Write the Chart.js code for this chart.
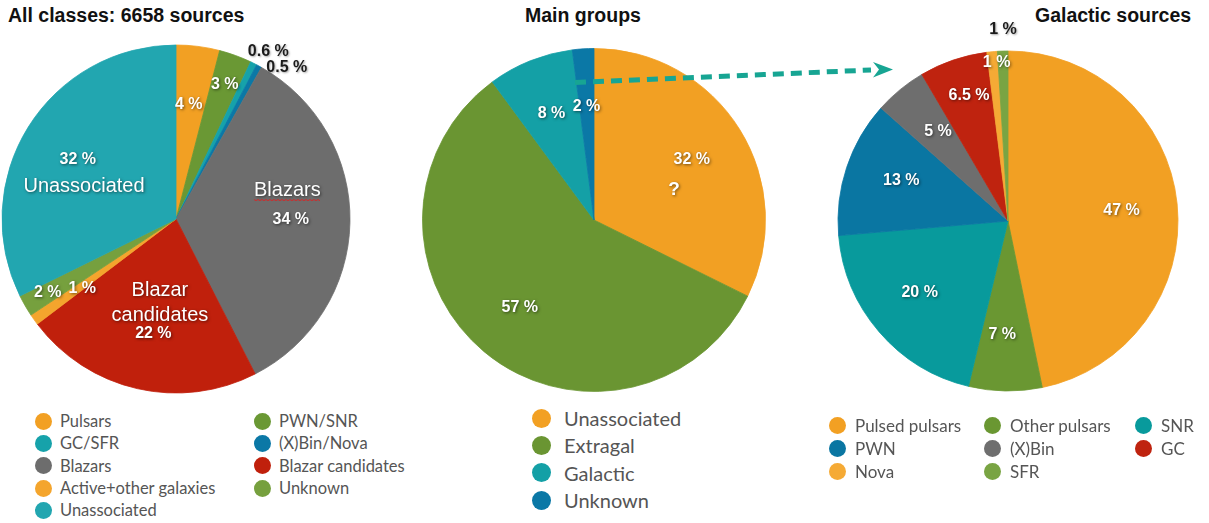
<!DOCTYPE html>
<html>
<head>
<meta charset="utf-8">
<script src="https://cdn.jsdelivr.net/npm/chart.js@4.4.1/dist/chart.umd.min.js"></script>
<style>
  html, body { margin: 0; padding: 0; background: #fff; }
  #page { position: relative; width: 1209px; height: 523px; overflow: hidden;
          font-family: 'Liberation Sans', Arial, Helvetica, sans-serif; }
  .title { position: absolute; font-weight: bold; font-size: 19.5px; line-height: 20px;
           color: #111; white-space: nowrap; }
  .box { position: absolute; }
  .legend { position: absolute; display: grid; font-family: Lato, 'Open Sans', sans-serif; color: #555; }
  .item { display: flex; align-items: center; white-space: nowrap; }
  .dot { border-radius: 50%; flex: none; }
  svg { position: absolute; left: 0; top: 0; pointer-events: none; }
</style>
</head>
<body>
<div id="page">
  <div class="title" style="left:8px; top:5px;">All classes: 6658 sources</div>
  <div class="title" style="left:525px; top:5px;">Main groups</div>
  <div class="title" style="left:1035px; top:5px;">Galactic sources</div>

  <div class="box" style="left:0px; top:29px; width:352px; height:380px;"><canvas id="allChart"></canvas></div>
  <div class="box" style="left:408.5px; top:35px; width:370px; height:370px;"><canvas id="mainChart"></canvas></div>
  <div class="box" style="left:813px; top:16px; width:390px; height:410px;"><canvas id="galChart"></canvas></div>

  <div class="legend" id="allLegend"></div>
  <div class="legend" id="mainLegend"></div>
  <div class="legend" id="galLegend"></div>

  <svg width="1209" height="523">
    <line x1="575" y1="82.5" x2="871" y2="70" stroke="#17A593" stroke-width="5" stroke-dasharray="11 7"/>
    <polygon points="873,62 893,69.5 873,77.5 879,69.5" fill="#17A593"/>
  </svg>
</div>

<script>
// ---- All classes (clockwise from the top) ----
const allClasses = ['Pulsars', 'PWN/SNR', 'GC/SFR', '(X)Bin/Nova', 'Blazars',
                    'Blazar candidates', 'Active+other galaxies', 'Unknown', 'Unassociated'];
const allShares  = [4, 3, 0.6, 0.5, 34, 22, 1, 2, 32];
const allLegendOrder = ['Pulsars', 'GC/SFR', 'Blazars', 'Active+other galaxies', 'Unassociated',
                        'PWN/SNR', '(X)Bin/Nova', 'Blazar candidates', 'Unknown'];

// ---- Main groups ----
const mainGroups = ['Unassociated', 'Extragal', 'Galactic', 'Unknown'];
const mainShares = [32, 57, 8, 2];

// ---- Galactic sources ----
const galClasses = ['Pulsed pulsars', 'Other pulsars', 'SNR', 'PWN', '(X)Bin', 'GC', 'Nova', 'SFR'];
const galShares  = [47, 7, 20, 13, 5, 6.5, 1, 1];

// colours per class
const allColors  = ['#F2A023', '#6A9834', '#16A2AA', '#0B78A6', '#6D6D6D',
                    '#C0200C', '#F4A52D', '#76A03E', '#22A6B0'];
const mainColors = ['#F2A023', '#6A9532', '#14A0A6', '#0B78A6'];
const galColors  = ['#F2A023', '#6A9732', '#089A9C', '#0A76A2', '#6E6E6E', '#BF230F', '#F5AA35', '#79A443'];

const pct = v => v + ' %';
const BOLD = 'bold 16px "Liberation Sans", Arial, sans-serif';
const BIG  = '20px "Liberation Sans", Arial, sans-serif';
const DARK = '#1b1b1b';

// text placed on slices: slice index, text, radius fraction, turn (deg), style
const allText = [
  { s: 0, t: pct(allShares[0]), r: 0.66, turn: -0.9 },
  { s: 1, t: pct(allShares[1]), r: 0.82, turn: 0 },
  { s: 2, t: pct(allShares[2]), r: 1.10, turn: 2.3, dark: true },
  { s: 3, t: pct(allShares[3]), r: 1.08, turn: 7.6, dark: true },
  { s: 4, t: 'Blazars', r: 0.66, turn: -15.4, font: BIG, underline: true },
  { s: 4, t: pct(allShares[4]), r: 0.66, turn: -0.7 },
  { s: 5, t: 'Blazar', r: 0.42, turn: -0.2, font: BIG },
  { s: 5, t: 'candidates', r: 0.56, turn: -3.4, font: BIG },
  { s: 5, t: pct(allShares[5]), r: 0.67, turn: -1.7 },
  { s: 6, t: pct(allShares[6]), r: 0.67, turn: -1.1 },
  { s: 7, t: pct(allShares[7]), r: 0.85, turn: 0 },
  { s: 8, t: pct(allShares[8]), r: 0.66, turn: -0.6 },
  { s: 8, t: 'Unassociated', r: 0.56, turn: -12.6, font: BIG }
];
const mainText = [
  { s: 0, t: pct(mainShares[0]), r: 0.67, turn: 0.2 },
  { s: 0, t: '?', r: 0.50, turn: 11, font: 'bold 19px "Liberation Sans", Arial, sans-serif' },
  { s: 1, t: pct(mainShares[1]), r: 0.67, turn: 0.2 },
  { s: 2, t: pct(mainShares[2]), r: 0.67, turn: 0.1 },
  { s: 3, t: pct(mainShares[3]), r: 0.66, turn: -0.2 }
];
const galText = [
  { s: 0, t: pct(galShares[0]), r: 0.67, turn: 0.8 },
  { s: 1, t: pct(galShares[1]), r: 0.67, turn: 2 },
  { s: 2, t: pct(galShares[2]), r: 0.67, turn: 1.6 },
  { s: 3, t: pct(galShares[3]), r: 0.67, turn: 2.2 },
  { s: 4, t: pct(galShares[4]), r: 0.67, turn: 1.5 },
  { s: 5, t: pct(galShares[5]), r: 0.77, turn: 1.5 },
  { s: 6, t: pct(galShares[6]), r: 0.935, turn: 1.25 },
  { s: 7, t: pct(galShares[7]), r: 1.124, turn: 0.3, dark: true }
];

// draws the percentage / name text over each slice, placed by the slice's own angle
const sliceText = {
  id: 'sliceText',
  afterDatasetsDraw(chart, args, opts) {
    const meta = chart.getDatasetMeta(0);
    const ctx = chart.ctx;
    (opts.items || []).forEach(it => {
      const arc = meta.data[it.s];
      const p = arc.getProps(['x', 'y', 'startAngle', 'endAngle', 'outerRadius'], true);
      const a = (p.startAngle + p.endAngle) / 2 + (it.turn || 0) * Math.PI / 180;
      const x = p.x + Math.cos(a) * p.outerRadius * it.r;
      const y = p.y + Math.sin(a) * p.outerRadius * it.r;
      ctx.save();
      ctx.font = it.font || BOLD;
      ctx.textAlign = 'center';
      ctx.textBaseline = 'middle';
      if (it.dark) {
        ctx.shadowColor = 'rgba(0,0,0,0.35)';
        ctx.shadowBlur = 2;
        ctx.shadowOffsetX = 1;
        ctx.shadowOffsetY = 1;
        ctx.fillStyle = DARK;
      } else {
        ctx.shadowColor = 'rgba(0,0,0,0.55)';
        ctx.shadowBlur = 3;
        ctx.shadowOffsetX = 1;
        ctx.shadowOffsetY = 1;
        ctx.fillStyle = '#fff';
      }
      ctx.fillText(it.t, x, y);
      if (it.underline) {
        const w = ctx.measureText(it.t).width;
        ctx.shadowColor = 'transparent';
        ctx.strokeStyle = '#d02a2a';
        ctx.lineWidth = 1;
        ctx.beginPath();
        for (let i = 0; i <= w; i += 2) {
          const yy = y + 9 + ((i / 2) % 2 ? 0.8 : -0.2);
          if (i === 0) ctx.moveTo(x - w / 2 + i, yy); else ctx.lineTo(x - w / 2 + i, yy);
        }
        ctx.stroke();
      }
      ctx.restore();
    });
  }
};

function pie(id, labels, values, colors, radius, items) {
  return new Chart(document.getElementById(id), {
    type: 'pie',
    data: {
      labels: labels,
      datasets: [{
        data: values,
        backgroundColor: colors,
        borderColor: colors,
        borderWidth: 0.8,
        hoverOffset: 0
      }]
    },
    options: {
      responsive: true,
      maintainAspectRatio: false,
      animation: false,
      radius: radius,
      layout: { padding: 0 },
      plugins: {
        legend: { display: false },
        tooltip: { enabled: false },
        sliceText: { items: items }
      }
    },
    plugins: [sliceText]
  });
}

pie('allChart', allClasses, allShares, allColors, 174, allText);
pie('mainChart', mainGroups, mainShares, mainColors, 171.5, mainText);
pie('galChart', galClasses, galShares, galColors, 170, galText);

// legends built from the same names and colours
function legend(id, names, colorOf, cfg) {
  const el = document.getElementById(id);
  Object.assign(el.style, cfg.style);
  names.forEach(n => {
    const item = document.createElement('div');
    item.className = 'item';
    const d = document.createElement('span');
    d.className = 'dot';
    d.style.width = d.style.height = cfg.dot + 'px';
    d.style.background = colorOf(n);
    d.style.marginRight = cfg.gap + 'px';
    const t = document.createElement('span');
    t.textContent = n;
    item.appendChild(d);
    item.appendChild(t);
    el.appendChild(item);
  });
}

legend('allLegend', allLegendOrder, n => allColors[allClasses.indexOf(n)], {
  dot: 17, gap: 8.5,
  style: { left: '34.5px', top: '410px', fontSize: '16.5px',
           gridTemplateColumns: '219px auto', gridTemplateRows: 'repeat(5, 22.3px)', gridAutoFlow: 'column' }
});
legend('mainLegend', mainGroups, n => mainColors[mainGroups.indexOf(n)], {
  dot: 19, gap: 13.5,
  style: { left: '531.5px', top: '404.5px', fontSize: '20px',
           gridTemplateColumns: 'auto', gridAutoRows: '27.3px' }
});
legend('galLegend', galClasses, n => galColors[galClasses.indexOf(n)], {
  dot: 17, gap: 9.5,
  style: { left: '828.5px', top: '413.5px', fontSize: '17px',
           gridTemplateColumns: '155px 151px auto', gridAutoRows: '23px' }
});
</script>
</body>
</html>
